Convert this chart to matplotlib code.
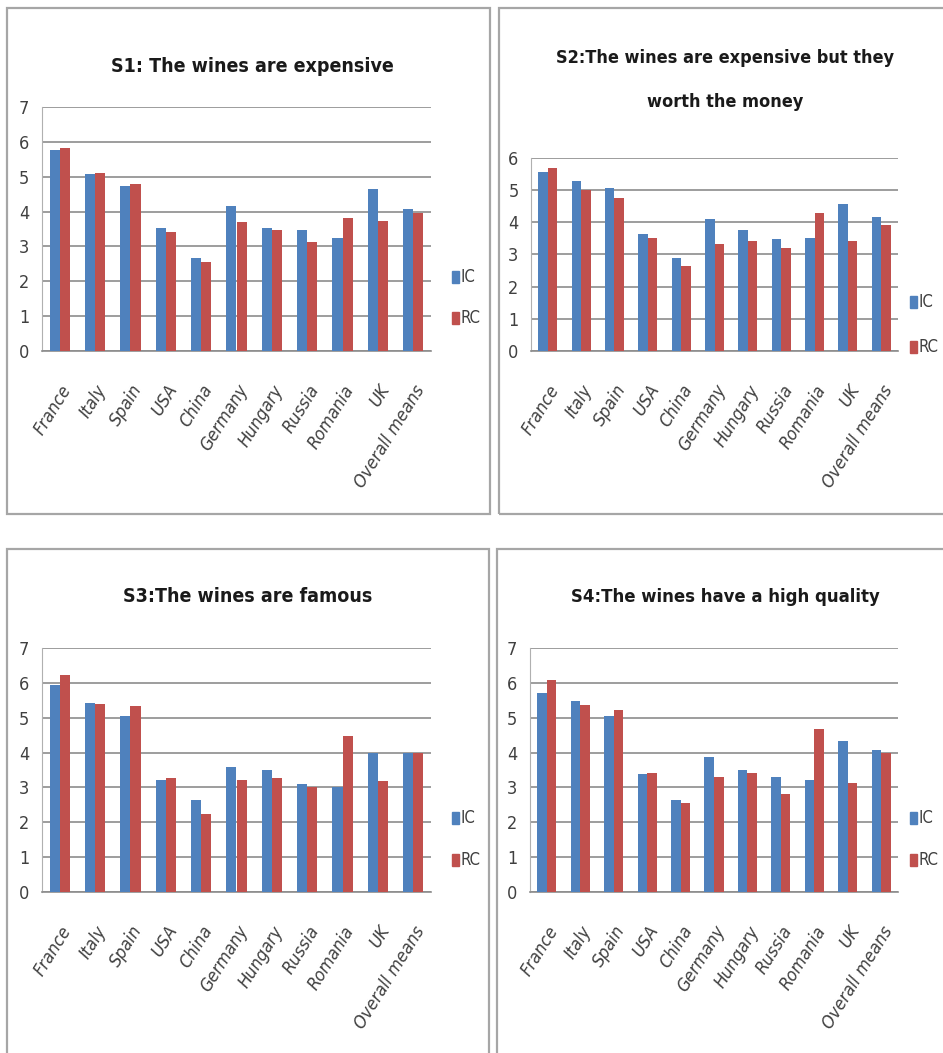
import matplotlib.pyplot as plt
import numpy as np
from matplotlib.patches import Rectangle

plt.rcParams['font.family'] = ['DejaVu Sans']
plt.rcParams['font.stretch'] = 'condensed'

countries = ['France', 'Italy', 'Spain', 'USA', 'China', 'Germany',
             'Hungary', 'Russia', 'Romania', 'UK', 'Overall means']

s1_ic = [5.76, 5.09, 4.72, 3.52, 2.68, 4.17, 3.52, 3.47, 3.24, 4.66, 4.07]
s1_rc = [5.82, 5.11, 4.80, 3.40, 2.56, 3.69, 3.47, 3.14, 3.81, 3.73, 3.95]

s2_ic = [5.58, 5.30, 5.08, 3.64, 2.88, 4.10, 3.76, 3.48, 3.51, 4.56, 4.17]
s2_rc = [5.68, 5.02, 4.77, 3.51, 2.64, 3.33, 3.41, 3.20, 4.28, 3.41, 3.93]

s3_ic = [5.93, 5.42, 5.06, 3.22, 2.65, 3.60, 3.51, 3.09, 3.00, 3.99, 3.99]
s3_rc = [6.23, 5.39, 5.35, 3.26, 2.25, 3.22, 3.26, 3.00, 4.48, 3.19, 3.99]

s4_ic = [5.70, 5.48, 5.06, 3.38, 2.65, 3.87, 3.51, 3.31, 3.22, 4.32, 4.06]
s4_rc = [6.09, 5.36, 5.22, 3.41, 2.55, 3.31, 3.41, 2.81, 4.67, 3.12, 3.99]

titles = ['S1: The wines are expensive',
          'S2:The wines are expensive but they\nworth the money',
          'S3:The wines are famous',
          'S4:The wines have a high quality']
title_sizes = [14, 13, 14, 13.2]

ymaxes = [7, 6, 7, 7]

blue = '#4F81BD'
red = '#C0504D'
grid_c = '#8c8c8c'

W, H = 943, 1053
fig = plt.figure(figsize=(W / 100, H / 100), dpi=100)


def px_rect(x0, y0, x1, y1):
    # pixel box (top-left origin) -> figure fraction [left, bottom, width, height]
    return [x0 / W, 1 - y1 / H, (x1 - x0) / W, (y1 - y0) / H]


# outer frames of the four charts
frames = [(7, 8, 490, 514), (499, 8, 960, 514),
          (7, 549, 489, 1070), (497, 549, 960, 1070)]
for f in frames:
    l, b, w, h = px_rect(*f)
    fig.add_artist(Rectangle((l, b), w, h, transform=fig.transFigure,
                             fill=False, edgecolor='#a6a6a6', lw=1.6))

axes_boxes = [(42, 107, 431, 351), (531, 158, 898, 351),
              (42, 648, 431, 892), (530, 648, 898, 892)]
title_pos = [(252, 67), (725, 80), (248, 597), (725, 597)]
legend_pos = [(452, 277, 318), (910, 302, 347), (452, 818, 860), (910, 818, 860)]

data = [(s1_ic, s1_rc), (s2_ic, s2_rc), (s3_ic, s3_rc), (s4_ic, s4_rc)]

x = np.arange(len(countries))
bw = 1 / 3.5

for i, (ic, rc) in enumerate(data):
    ax = fig.add_axes(px_rect(*axes_boxes[i]))
    ax.bar(x - bw / 2, ic, bw, color=blue, zorder=3)
    ax.bar(x + bw / 2, rc, bw, color=red, zorder=3)
    ax.set_xlim(-0.5, len(countries) - 0.5)
    ax.set_ylim(0, ymaxes[i])
    ax.set_yticks(range(ymaxes[i] + 1))
    ax.yaxis.grid(True, color=grid_c, lw=1.2, zorder=0)
    for s in ['top', 'right']:
        ax.spines[s].set_visible(False)
    ax.spines['left'].set_color('#b0b0b0')
    ax.spines['bottom'].set_color(grid_c)
    ax.spines['bottom'].set_linewidth(1.2)
    ax.tick_params(axis='both', length=0, labelsize=13, colors='#404040')
    ax.tick_params(axis='y', pad=9)
    ax.set_xticks(x)
    ax.set_xticklabels(countries, rotation=58, ha='right',
                       rotation_mode='anchor', fontsize=13,
                       fontstyle='italic', color='#404040')
    ax.tick_params(axis='x', pad=22)

    tx, ty = title_pos[i]
    fig.text(tx / W, 1 - ty / H, titles[i], ha='center', va='center',
             fontsize=title_sizes[i], fontweight='bold',
             color='#1a1a1a', linespacing=2.8)

    lx, ly1, ly2 = legend_pos[i]
    for lbl, col, ly in [('IC', blue, ly1), ('RC', red, ly2)]:
        fig.add_artist(Rectangle((lx / W, 1 - (ly + 6) / H), 7 / W, 12 / H,
                                 transform=fig.transFigure, color=col))
        fig.text((lx + 9) / W, 1 - ly / H, lbl, ha='left', va='center',
                 fontsize=12, color='#404040')

fig.savefig('out.png', dpi=100)
